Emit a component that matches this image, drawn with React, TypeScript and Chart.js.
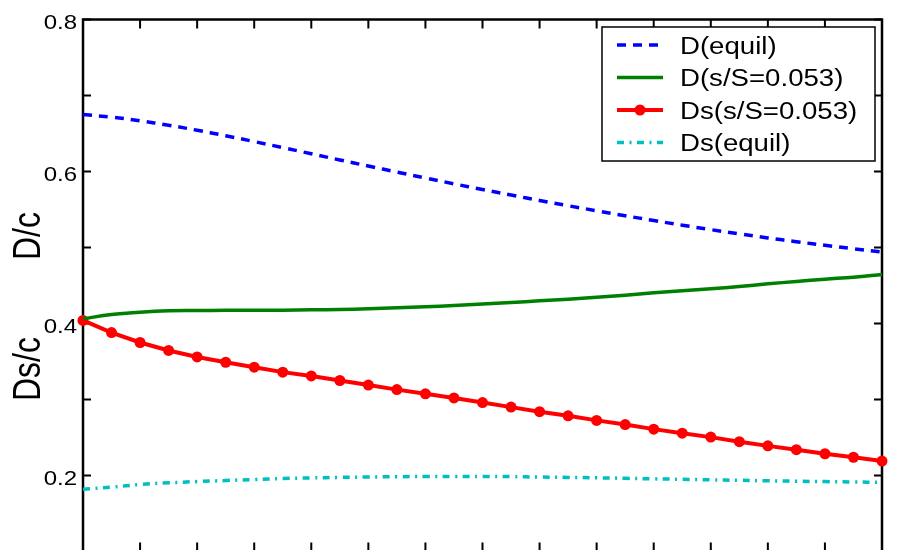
import React, { useEffect, useRef } from "react";
import { Chart, registerables } from "chart.js";

Chart.register(...registerables);

const xValues = [
  0, 0.05, 0.1, 0.15, 0.2, 0.25, 0.3, 0.35, 0.4, 0.45, 0.5, 0.55, 0.6, 0.65, 0.7,
  0.75, 0.8, 0.85, 0.9, 0.95, 1.0, 1.05, 1.1, 1.15, 1.2, 1.25, 1.3, 1.35, 1.4,
];

const dEquil = [
  0.675, 0.6715, 0.6667, 0.6609, 0.6543, 0.6471, 0.6394, 0.6314, 0.6233, 0.6152,
  0.6072, 0.5993, 0.5915, 0.5838, 0.5763, 0.569, 0.5619, 0.555, 0.5483, 0.5418,
  0.5355, 0.5294, 0.5235, 0.5179, 0.5126, 0.5076, 0.5029, 0.4984, 0.4941,
];

const dSs = [
  0.4062, 0.4118, 0.4149, 0.4167, 0.417, 0.4173, 0.4175, 0.4175, 0.418, 0.4185,
  0.4193, 0.4206, 0.422, 0.4237, 0.4255, 0.4276, 0.4298, 0.432, 0.4346, 0.4373,
  0.4404, 0.443, 0.4456, 0.4487, 0.4522, 0.4553, 0.4583, 0.461, 0.4645,
];

const dsSs = [
  0.404, 0.388, 0.375, 0.3645, 0.356, 0.349, 0.3425, 0.336, 0.331, 0.325, 0.319,
  0.313, 0.3075, 0.302, 0.296, 0.29, 0.284, 0.2785, 0.2725, 0.267, 0.261, 0.2557,
  0.2505, 0.2445, 0.239, 0.234, 0.2286, 0.224, 0.219,
];

const dsEquil = [
  0.182, 0.1846, 0.1882, 0.1904, 0.192, 0.1934, 0.1947, 0.196, 0.1968, 0.1975,
  0.198, 0.1984, 0.1987, 0.1988, 0.1988, 0.1985, 0.198, 0.1975, 0.197, 0.1963,
  0.1956, 0.195, 0.1943, 0.1937, 0.193, 0.1925, 0.192, 0.1915, 0.191,
];

const seriesLabels = ["D(equil)", "D(s/S=0.053)", "Ds(s/S=0.053)", "Ds(equil)"];
const yTickLabels = ["0.2", "0.4", "0.6", "0.8"];
const yTitles = ["D/c", "Ds/c"];

const FONT = "'Liberation Sans', Arial, Helvetica, sans-serif";
const STRETCH = 1.2;

const toPoints = (ys: number[]) => ys.map((y, i) => ({ x: xValues[i], y }));

const matlabPlugin = {
  id: "matlabAxes",
  beforeDatasetsDraw(chart: any) {
    const { ctx, chartArea } = chart;
    const { left, right, top, bottom } = chartArea;
    const xs = chart.scales.x;
    const ys = chart.scales.y;
    ctx.save();
    ctx.strokeStyle = "#000";
    ctx.lineWidth = 2;
    ys.ticks.forEach((t: any) => {
      const py = ys.getPixelForValue(t.value);
      ctx.beginPath();
      ctx.moveTo(left, py);
      ctx.lineTo(left + 8, py);
      ctx.moveTo(right, py);
      ctx.lineTo(right - 8, py);
      ctx.stroke();
    });
    xs.ticks.forEach((t: any) => {
      const px = xs.getPixelForValue(t.value);
      ctx.beginPath();
      ctx.moveTo(px, bottom);
      ctx.lineTo(px, bottom - 9);
      ctx.moveTo(px, top);
      ctx.lineTo(px, top + 9);
      ctx.stroke();
    });
    ctx.lineWidth = 2.5;
    ctx.strokeRect(left, top, right - left, bottom - top);

    // tick labels
    ctx.fillStyle = "#000";
    ctx.font = `20px ${FONT}`;
    ctx.textAlign = "right";
    ctx.textBaseline = "alphabetic";
    ys.ticks.forEach((t: any) => {
      const lbl = t.value.toFixed(1);
      if (!yTickLabels.includes(lbl)) return;
      const py = ys.getPixelForValue(t.value);
      ctx.save();
      ctx.translate(left - 6, py + 9);
      ctx.scale(STRETCH, 1);
      ctx.fillText(lbl, 0, 0);
      ctx.restore();
    });

    // y titles
    ctx.font = `32px ${FONT}`;
    ctx.textAlign = "center";
    const titleY = [236, 369];
    yTitles.forEach((txt, i) => {
      ctx.save();
      ctx.translate(40, titleY[i]);
      ctx.scale(STRETCH, 1);
      ctx.rotate(-Math.PI / 2);
      ctx.fillText(txt, 0, 0);
      ctx.restore();
    });
    ctx.restore();
  },
  afterDatasetsDraw(chart: any) {
    const { ctx } = chart;
    ctx.save();
    const bx = 602, by = 27, bw = 273, bh = 134;
    ctx.fillStyle = "#fff";
    ctx.fillRect(bx, by, bw, bh);
    ctx.strokeStyle = "#000";
    ctx.lineWidth = 1.5;
    ctx.strokeRect(bx, by, bw, bh);
    const rowY = [45, 77.5, 110, 142.5];
    chart.data.datasets.forEach((ds: any, i: number) => {
      const y = rowY[i];
      ctx.save();
      ctx.strokeStyle = ds.borderColor;
      ctx.lineWidth = ds.borderWidth;
      ctx.setLineDash(ds.borderDash || []);
      ctx.beginPath();
      ctx.moveTo(617, y);
      ctx.lineTo(663, y);
      ctx.stroke();
      ctx.setLineDash([]);
      if (ds.pointRadius > 0) {
        ctx.fillStyle = ds.pointBackgroundColor;
        ctx.beginPath();
        ctx.arc(640, y, ds.pointRadius, 0, Math.PI * 2);
        ctx.fill();
      }
      ctx.restore();
      ctx.save();
      ctx.fillStyle = "#000";
      ctx.font = `23px ${FONT}`;
      ctx.textAlign = "left";
      ctx.textBaseline = "alphabetic";
      ctx.translate(680, y + 8.5);
      ctx.scale(STRETCH, 1);
      ctx.fillText(ds.label, 0, 0);
      ctx.restore();
    });
    ctx.restore();
  },
};

export default function App() {
  const ref = useRef<HTMLCanvasElement | null>(null);
  useEffect(() => {
    if (!ref.current) return;
    const chart = new Chart(ref.current, {
      type: "line",
      data: {
        datasets: [
          {
            label: seriesLabels[0],
            data: toPoints(dEquil),
            borderColor: "#0000ff",
            borderWidth: 3.5,
            borderDash: [9, 7],
            pointRadius: 0,
            tension: 0.4,
            clip: false as any,
          },
          {
            label: seriesLabels[1],
            data: toPoints(dSs),
            borderColor: "#008000",
            borderWidth: 3.5,
            pointRadius: 0,
            tension: 0.4,
            clip: false as any,
          },
          {
            label: seriesLabels[2],
            data: toPoints(dsSs),
            borderColor: "#ff0000",
            borderWidth: 4,
            pointRadius: 5.5,
            pointBackgroundColor: "#ff0000",
            pointBorderWidth: 0,
            pointBorderColor: "#ff0000",
            tension: 0,
            clip: false as any,
          },
          {
            label: seriesLabels[3],
            data: toPoints(dsEquil),
            borderColor: "#00bfbf",
            borderWidth: 3.5,
            borderDash: [7, 5.5, 2, 5.5],
            pointRadius: 0,
            tension: 0.4,
            clip: false as any,
          },
        ],
      },
      options: {
        animation: false,
        responsive: false,
        events: [],
        layout: { padding: { top: 19.5, right: 27, bottom: 8.5, left: 0 } },
        plugins: { legend: { display: false }, tooltip: { enabled: false } },
        scales: {
          x: {
            type: "linear",
            min: 0,
            max: 1.4,
            ticks: { stepSize: 0.1, display: false },
            grid: { display: false },
            border: { display: false },
            afterFit: (s: any) => {
              s.height = 0;
            },
          },
          y: {
            type: "linear",
            min: 0.1,
            max: 0.8,
            ticks: { stepSize: 0.1, display: false },
            grid: { display: false },
            border: { display: false },
            afterFit: (s: any) => {
              s.width = 83;
            },
          },
        },
      },
      plugins: [matlabPlugin],
    });
    return () => chart.destroy();
  }, []);
  return (
    <div style={{ position: "fixed", left: 0, top: 0, width: 909, height: 560, background: "#fff" }}>
      <canvas ref={ref} width={909} height={560} style={{ display: "block" }} />
    </div>
  );
}
